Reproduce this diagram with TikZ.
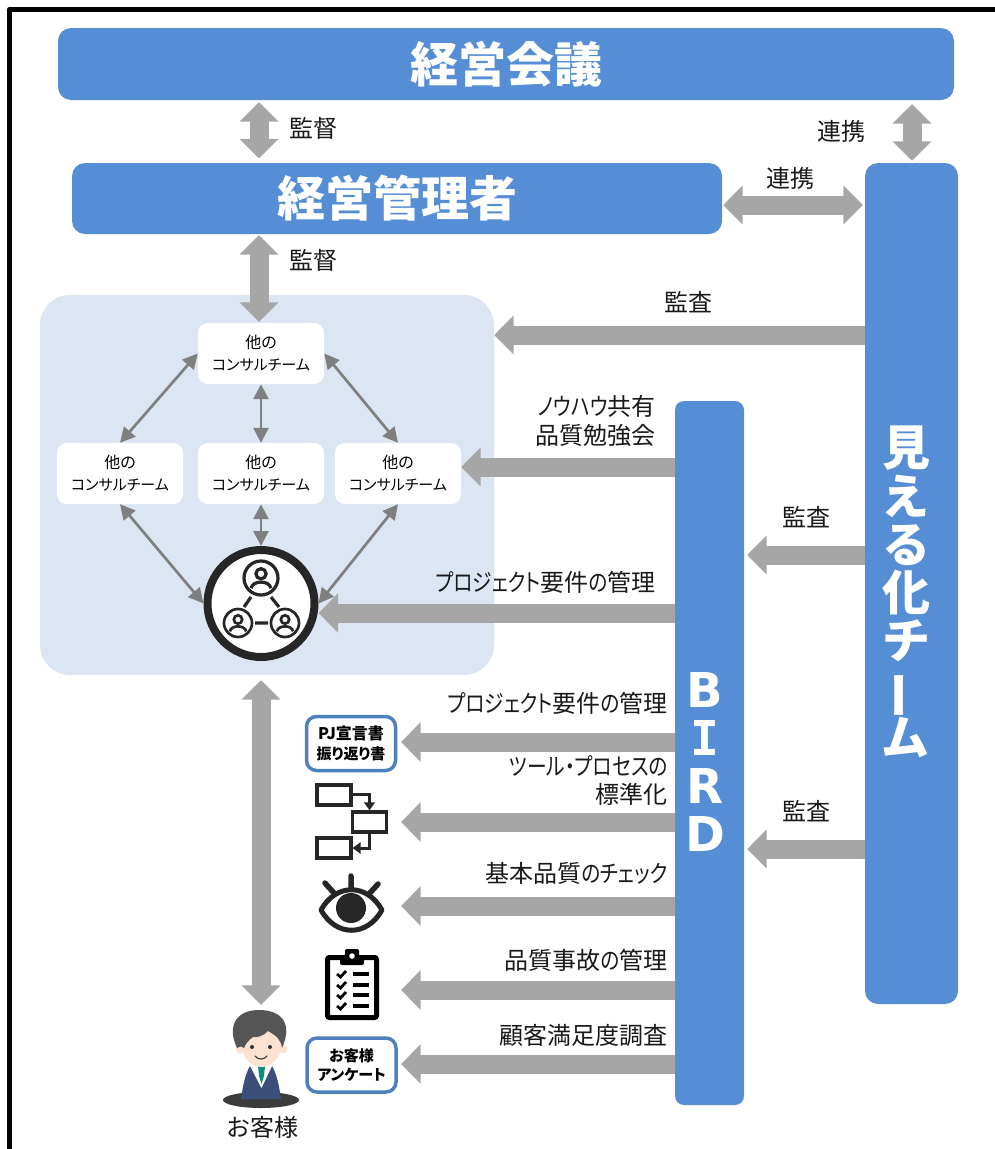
\documentclass[tikz,border=0pt]{standalone}
\usepackage{fontspec}
\setmainfont[RawFeature={+palt}]{Noto Sans CJK JP}
\newfontfamily\knf[FakeStretch=0.82,RawFeature={+palt}]{Noto Sans CJK JP}
\newfontfamily\birdf{DejaVu Sans}
\newfontfamily\birdi{DejaVu Sans Mono}
\newcommand{\kn}[1]{{\knf #1}}
\usetikzlibrary{arrows.meta}
\definecolor{bluebox}{HTML}{558ED5}
\definecolor{panelblue}{HTML}{DCE6F2}
\definecolor{fatgray}{HTML}{A6A6A6}
\definecolor{thingray}{HTML}{7F7F7F}
\definecolor{iconblack}{HTML}{262626}
\definecolor{cardblue}{HTML}{4F81BD}
\definecolor{suit}{HTML}{3A5078}
\definecolor{skin}{HTML}{FDE3CF}
\definecolor{hair}{HTML}{555555}
\definecolor{tie}{HTML}{0E8C80}
\newcommand{\fs}[1]{\fontsize{#1}{#1}\selectfont}
\newcommand{\personicon}[3]{%
  \draw[iconblack,line width=#3*0.19pt] (#1,#2) circle[radius=#3];
  \draw[iconblack,line width=#3*0.19pt] (#1,#2-#3*0.25) circle[radius=#3*0.3];
  \draw[iconblack,line width=#3*0.19pt] (#1-#3*0.58,#2+#3*0.6) .. controls (#1-#3*0.5,#2+#3*0.12) and (#1+#3*0.5,#2+#3*0.12) .. (#1+#3*0.58,#2+#3*0.6);
}
\tikzset{
  x=1pt,y=-1pt,
  titlebox/.style={fill=bluebox,rounded corners=13pt,inner sep=0pt,text=white,font=\fs{48}\bfseries,align=center},
  teambox/.style={fill=white,rounded corners=10pt,inner sep=0pt,minimum width=126pt,minimum height=61pt,align=center,font=\fs{16}},
  card/.style={draw=cardblue,line width=3.5pt,fill=white,rounded corners=10pt,inner sep=0pt,minimum width=89pt,minimum height=54pt,align=center,font=\fs{15}\bfseries},
  lab/.style={font=\fs{24},inner sep=0pt,text=black!90,align=center},
  labr/.style={font=\fs{24},inner sep=0pt,text=black!90,anchor=east,align=right},
  fat/.style={draw=fatgray,line width=19pt,-{Triangle[length=19.5pt,width=38pt]}},
  fatd/.style={draw=fatgray,line width=19pt,{Triangle[length=19.5pt,width=38pt]}-{Triangle[length=19.5pt,width=38pt]}},
  thinarrow/.style={draw=thingray,line width=2.7pt,{Triangle[length=15pt,width=15pt]}-{Triangle[length=15pt,width=15pt]}},
}
\begin{document}
\begin{tikzpicture}
\useasboundingbox (0,0) rectangle (995,1149);
\fill[white] (0,0) rectangle (995,1149);
\draw[black,line width=5.5pt,line join=round] (9.5,1160) -- (9.5,9.5) -- (1005,9.5);
% boxes
\node[titlebox,minimum width=896pt,minimum height=72pt] (kaigi) at (506,64) {経営会議};
\node[titlebox,minimum width=650pt,minimum height=71pt] (kanri) at (397,198.5) {経営管理者};
\node[fill=panelblue,rounded corners=30pt,minimum width=454pt,minimum height=380pt,inner sep=0pt] (panel) at (267,485) {};
\node[titlebox,minimum width=93pt,minimum height=841pt] (mieru) at (911.5,583.5) {};
\node[titlebox,rounded corners=9pt,minimum width=69pt,minimum height=704pt] (bird) at (709.5,753) {};
\node[text=white,font=\fs{48}\bfseries,align=center,inner sep=0pt] (mierutext) at (906,592) {見\\[.3pt]え\\[.3pt]る\\[.3pt]化\\[.3pt]チ\\[.3pt]\smash{\rotatebox[origin=c]{90}{ー}}\\[.3pt]ム};
\node[text=white,font=\fs{48}\birdf\bfseries,align=center,inner sep=0pt] (birdtext) at (705,762) {B\\[.2pt]{\birdi I}\\[.2pt]R\\[.2pt]D};
% y levels
\coordinate (yA) at (0,205);
\coordinate (yB) at (0,335);
\coordinate (yC) at (0,467);
\coordinate (yD) at (0,555);
\coordinate (yE) at (0,613);
\coordinate (yF) at (0,849);
\coordinate (yG) at (0,742);
\coordinate (yH) at (0,822);
\coordinate (yI) at (0,906);
\coordinate (yJ) at (0,990);
\coordinate (yK) at (0,1064);
\coordinate (xA) at (259,0);
\coordinate (xB) at (912,0);
\coordinate (xC) at (261,0);
\coordinate (xD) at (401,0);
% team boxes
\node[teambox] (top) at (261,353.5) {他の\\[6pt]{\fs{15}コンサルチーム}};
\node[teambox] (left) at (120,473.5) {他の\\[6pt]{\fs{15}コンサルチーム}};
\node[teambox] (mid) at (261,473.5) {他の\\[6pt]{\fs{15}コンサルチーム}};
\node[teambox] (right) at (398,473.5) {他の\\[6pt]{\fs{15}コンサルチーム}};
% team circle
\node[circle,draw=iconblack,line width=8pt,fill=white,minimum size=107pt,inner sep=0pt] (hub) at (261,603.5) {};
\personicon{261}{578}{17}
\personicon{238}{623}{14}
\personicon{285}{623}{14}
\draw[iconblack,line width=3.2pt] (251,597) -- (244,607) (271,597) -- (279,607) (255,623) -- (268,623);
% thin arrows
\draw[thinarrow] (top.west) -- (left.north);
\draw[thinarrow] (top.east) -- (right.north);
\draw[thinarrow] (top.south) -- (mid.north);
\draw[thinarrow] (mid.south) -- (hub.north);
\draw[thinarrow] (left.south) -- (hub.west);
\draw[thinarrow] (right.south) -- (hub.east);
% fat arrows
\draw[fatd,shorten <=2pt,shorten >=4.5pt] (kaigi.south -| xA) -- (kanri.north -| xA);
\draw[fatd,shorten <=4pt,shorten >=2pt] (kaigi.south -| xB) -- (mieru.north -| xB);
\draw[fatd,shorten <=1pt,shorten >=2pt] (kanri.east |- yA) -- (mieru.west |- yA);
\draw[fatd,shorten <=1pt,shorten >=1pt] (kanri.south -| xA) -- (top.north -| xA);
\draw[fat] (mieru.west |- yB) -- (panel.east |- yB);
\draw[fat] (bird.west |- yC) -- (right.east |- yC);
\draw[fat,shorten >=3pt] (mieru.west |- yD) -- (bird.east |- yD);
\draw[fat] (bird.west |- yE) -- (hub.east |- yE);
\draw[fat,shorten >=3pt] (mieru.west |- yF) -- (bird.east |- yF);
\node[inner sep=0pt,minimum width=58pt,minimum height=74pt] (customer) at (261,1042) {};
\draw[fatd,shorten <=5pt] (panel.south -| xC) -- (customer.north -| xC);
\draw[fat] (bird.west |- yG) -- (xD |- yG);
\draw[fat] (bird.west |- yH) -- (xD |- yH);
\draw[fat] (bird.west |- yI) -- (xD |- yI);
\draw[fat] (bird.west |- yJ) -- (xD |- yJ);
\draw[fat] (bird.west |- yK) -- (xD |- yK);
% labels
\node[lab] (l1) at (313,128) {監督};
\node[lab] (l2) at (841,131) {連携};
\node[lab] (l3) at (790,178) {連携};
\node[lab] (l4) at (313,260) {監督};
\node[lab] (l5) at (688,302) {監査};
\node[labr] (l6) at (656,420.5) {\kn{ノウハウ}共有\\[5pt]品質勉強会};
\node[lab] (l7) at (806,517) {監査};
\node[labr] (l8) at (656,582) {\kn{プロジェクト}要件\kn{の}管理};
\node[lab] (l9) at (806,811) {監査};
\node[labr] (l10) at (668,703) {\kn{プロジェクト}要件\kn{の}管理};
\node[labr] (l11) at (668,780.5) {\kn{ツール・プロセスの}\\[3.5pt]標準化};
\node[labr] (l12) at (668,873) {基本品質\kn{のチェック}};
\node[labr] (l13) at (668,960) {品質事故\kn{の}管理};
\node[labr] (l14) at (668,1035) {顧客満足度調査};
% cards
\node[card] (pj) at (351,743.5) {{\fs{16}PJ宣言書}\\[5pt]振り返り書};
\node[card] (survey) at (351.5,1065) {お客様\\[3.5pt]アンケート};
% flow icon
\node[draw=iconblack,line width=4pt,minimum width=34pt,minimum height=20pt,inner sep=0pt] (f1) at (333.5,794.5) {};
\node[draw=iconblack,line width=3.5pt,minimum width=34pt,minimum height=20pt,inner sep=0pt] (f2) at (369.5,822) {};
\node[draw=iconblack,line width=4pt,minimum width=34pt,minimum height=20pt,inner sep=0pt] (f3) at (333.5,848) {};
\draw[iconblack,line width=3pt,-{Triangle[length=8pt,width=11pt]}] (f1.east) -| (f2.north);
\draw[iconblack,line width=3pt,-{Triangle[length=8pt,width=11pt]}] (f2.south) |- (f3.east);
% eye icon
\draw[iconblack,line width=5pt,line join=round] (321,910) .. controls (336,883) and (367,883) .. (382,910) .. controls (367,937) and (336,937) .. cycle;
\fill[iconblack] (351,908) circle[radius=15];
\draw[iconblack,line width=5.5pt,line cap=round] (325,883) -- (334,893) (351,876) -- (351,888) (378,884) -- (369,894);
% clipboard icon
\draw[black,line width=5pt,rounded corners=2pt,fill=white] (327.5,957.5) rectangle (376.5,1017.5);
\fill[black,rounded corners=2pt] (340,965) -- (340,956) -- (345,956) -- (345,949) -- (359,949) -- (359,956) -- (364,956) -- (364,965) -- cycle;
\fill[white] (352,956) circle[radius=2.8];
\foreach \yy in {974,985,995,1006}{
  \draw[black,line width=2.8pt] (337,\yy) -- (340.5,\yy+3) -- (346,\yy-3);
  \draw[black,line width=3.5pt] (353,\yy) -- (369,\yy);
}
% customer icon
\fill[iconblack!90] (261,1100) ellipse[x radius=38,y radius=8];
\fill[suit] (241,1099) .. controls (243,1085) and (245,1075) .. (250,1066) -- (272,1066) .. controls (277,1075) and (279,1085) .. (281,1099) -- cycle;
\fill[white] (250,1066) -- (272,1066) -- (261.5,1088) -- cycle;
\fill[tie] (258,1066) -- (265,1066) -- (264,1076) -- (261.5,1084) -- (259,1076) -- cycle;
\fill[skin] (240,1049) circle[radius=4.5] (283,1049) circle[radius=4.5];
\fill[skin] (261.5,1044) ellipse[x radius=20,y radius=23];
\fill[hair] (237,1048) .. controls (226,1024) and (238,1010) .. (259,1010) .. controls (282,1010) and (293,1024) .. (282,1048) .. controls (281,1040) and (277,1036) .. (268,1031) .. controls (264,1036) and (256,1038) .. (253,1037) .. controls (249,1040) and (246,1043) .. (244,1048) .. controls (243,1046) and (240,1046) .. (237,1048) -- cycle;
\fill[black!80] (252,1047) circle[radius=2] (270,1047) circle[radius=2];
\draw[black!75,line width=1.2pt,line cap=round] (255,1056) .. controls (258,1060) and (264,1060) .. (267,1056);
\node[lab] (kyaku) at (263,1127) {お客様};
\end{tikzpicture}
\end{document}
